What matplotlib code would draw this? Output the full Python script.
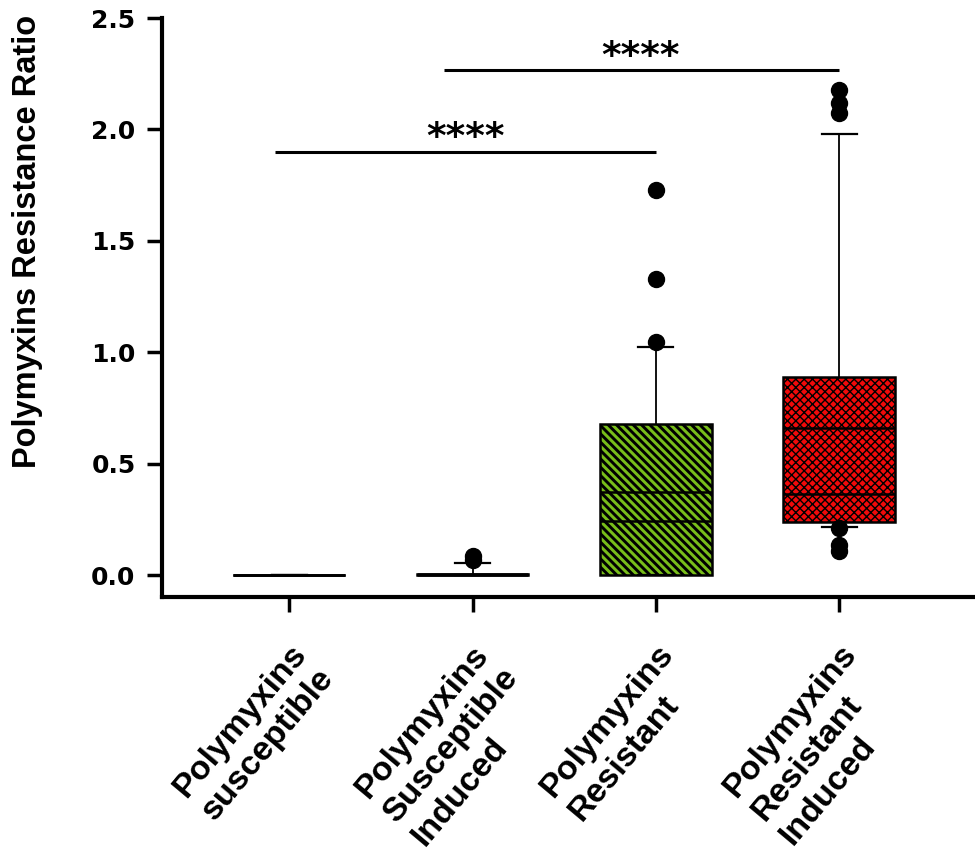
import matplotlib
matplotlib.use("Agg")
import matplotlib.pyplot as plt
import matplotlib.transforms as mtransforms

plt.rcParams['font.family'] = ['DejaVu Sans']
plt.rcParams['font.weight'] = 'bold'
plt.rcParams['hatch.linewidth'] = 2.0

# ---- data ----
categories = ["Polymyxins\nsusceptible", "Polymyxins\nSusceptible\nInduced",
              "Polymyxins\nResistant", "Polymyxins\nResistant\nInduced"]
q1_vals = [0.0, 0.0, 0.0, 0.238]
median_vals = [0.0, 0.0, 0.242, 0.364]
mean_vals = [0.0, 0.005, 0.372, 0.660]
q3_vals = [0.0, 0.005, 0.678, 0.889]
whislo_vals = [0.0, 0.0, 0.0, 0.215]
whishi_vals = [0.0, 0.052, 1.025, 1.979]
fliers_vals = [[], [0.068, 0.085], [1.045, 1.33, 1.728],
               [0.21, 0.135, 0.11, 2.075, 2.12, 2.175]]
box_colors = ['white', 'white', '#78bd1a', '#f00a0a']
box_hatches = [None, None, '\\' * 4, 'x' * 4]

sig_x = [[0.92, 3.0], [1.846, 4.0]]
sig_y = [1.90, 2.267]
sig_text = ["****", "****"]
sig_text_pos = [(1.96, 1.88), (2.915, 2.245)]

yticks = [0.0, 0.5, 1.0, 1.5, 2.0, 2.5]
ylabel = "Polymyxins Resistance Ratio"

# ---- figure ----
fig = plt.figure(figsize=(9.75, 8.58), dpi=100)
ax = fig.add_axes([162 / 975, (858 - 597.3) / 858, (973 - 162) / 975, (597.3 - 18) / 858])

positions = [1, 2, 3, 4]
stats = []
for i in range(4):
    stats.append(dict(med=median_vals[i], q1=q1_vals[i], q3=q3_vals[i],
                      whislo=whislo_vals[i], whishi=whishi_vals[i],
                      mean=mean_vals[i], fliers=fliers_vals[i], label=categories[i]))

bp = ax.bxp(stats, positions=positions, widths=0.61, capwidths=0.19,
            patch_artist=True, showmeans=True, meanline=True,
            boxprops=dict(linewidth=1.8, edgecolor='black'),
            medianprops=dict(color='black', linewidth=1.8),
            meanprops=dict(color='black', linewidth=1.8, linestyle='-'),
            whiskerprops=dict(color='black', linewidth=1.3),
            capprops=dict(color='black', linewidth=1.6),
            flierprops=dict(marker='o', markerfacecolor='black', markeredgecolor='black',
                            markersize=11.5))

hatch_lw = [1.0, 1.0, 2.1, 1.0]
for i, patch in enumerate(bp['boxes']):
    patch.set_facecolor(box_colors[i])
    if box_hatches[i]:
        patch.set_hatch(box_hatches[i])
        if hasattr(patch, 'set_hatch_linewidth'):
            patch.set_hatch_linewidth(hatch_lw[i])
for line in bp['fliers']:
    line.set_clip_on(False)

# significance bars
for xs, y, t, (tx, ty) in zip(sig_x, sig_y, sig_text, sig_text_pos):
    ax.plot(xs, [y, y], color='black', linewidth=2.2, solid_capstyle='butt')
    ax.text(tx, ty, t, ha='center', va='bottom', fontsize=27, fontweight='bold')

ax.set_xlim(0.306, 4.73)
ax.set_ylim(-0.1, 2.5)
ax.set_yticks(yticks)
ax.set_yticklabels([f"{v:.1f}" for v in yticks], fontsize=18, fontweight='bold')
ax.set_xticks(positions)
ax.set_xticklabels(categories, fontsize=24.5, fontweight='bold', rotation=50,
                   family=['Liberation Sans', 'DejaVu Sans'], linespacing=1.25,
                   ha='right', va='top', rotation_mode='anchor', multialignment='left')
offset = mtransforms.ScaledTranslation(5 / 100, 0, fig.dpi_scale_trans)
for lab in ax.get_xticklabels():
    lab.set_transform(lab.get_transform() + offset)

ax.set_ylabel(ylabel, fontsize=23.5, fontweight='bold',
              family=['Liberation Sans', 'DejaVu Sans'])
ax.yaxis.set_label_coords(-0.147, 0.614)

for s in ['top', 'right']:
    ax.spines[s].set_visible(False)
for s in ['left', 'bottom']:
    ax.spines[s].set_linewidth(3)
ax.tick_params(axis='both', direction='out', length=11, width=2.5)
ax.tick_params(axis='x', pad=18.5)
ax.tick_params(axis='y', pad=8)

fig.savefig("out.png", dpi=100)
